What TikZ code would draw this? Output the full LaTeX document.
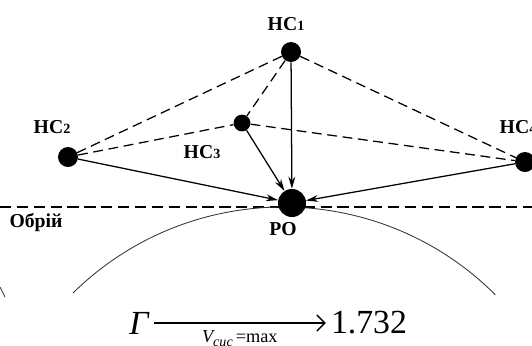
\documentclass[tikz,border=0pt]{standalone}
\usepackage{fontspec}
\setmainfont{Liberation Serif}
\usetikzlibrary{arrows.meta,positioning}

\newcommand{\satname}[1]{HC{\fontsize{10}{10}\selectfont #1}}

\begin{document}
\begin{tikzpicture}[x=0.025cm, y=0.025cm,
  dot/.style={circle, fill=black, inner sep=0pt, minimum size=0.5cm},
  lbl/.style={font=\fontsize{14}{14}\selectfont\bfseries, inner sep=0pt},
  link/.style={dash pattern=on 7pt off 4pt, line width=0.9pt},
  arr/.style={-{Stealth[length=3mm,width=1.7mm]}, line width=0.9pt},
  horizon/.style={dash pattern=on 8pt off 4pt, line width=0.9pt},
  big/.style={font=\fontsize{24}{24}\selectfont, inner sep=3.5pt},
]
\useasboundingbox (0,0) rectangle (532,345);

% ===== Horizon and Earth =====
\coordinate (hl) at (0,138);
\coordinate (hr) at (532,138);
\draw[horizon] (hl) -- (hr);
\draw[line width=0.6pt, black!80] (73,52) arc[start angle=134.5, end angle=45, radius=300];
\draw[line width=0.6pt, black!80] (0,58) -- (5,48);
\node[lbl] (horlbl) at (36,122) {Обрій};

% ===== Satellites and receiver =====
\node[dot] (hc1) at (291,293) {};
\node[dot] (hc2) at (68,188) {};
\node[dot, minimum size=0.42cm] (hc3) at (242,222) {};
\node[dot] (hc4) at (525,183) {};
\node[dot, minimum size=0.7cm] (po) at (292,142) {};

\node[lbl] (hc1lbl) at (286,321) {\satname{1}};
\node[lbl] (hc2lbl) at (52,218) {\satname{2}};
\node[lbl] (hc3lbl) at (202,193) {\satname{3}};
\node[lbl] (hc4lbl) at (518,218) {\satname{4}};
\node[lbl] (polbl) at (283,116) {PO};

% ===== Links =====
\draw[link] (hc1) -- (hc2);
\draw[link] (hc1) -- (hc3);
\draw[link] (hc1) -- (hc4);
\draw[link] (hc2) -- (hc3);
\draw[link] (hc3) -- (hc4);

\draw[arr] (hc1) -- (po);
\draw[arr] (hc2) -- (po);
\draw[arr] (hc3) -- (po);
\draw[arr] (hc4) -- (po);

% ===== Formula =====
\node[big, font=\fontsize{24}{24}\selectfont\itshape] (gam) at (139,22) {Γ};
\node[big] (val) at (369,22) {1.732};
\draw[-{Straight Barb[length=2mm,width=4mm]}, line width=1pt] (gam) -- (val)
  node[midway, below=5pt, inner sep=0pt, font=\fontsize{13}{13}\selectfont]
  {{\itshape V}\raisebox{-0.4ex}{\fontsize{10}{10}\selectfont\itshape сис}\,=max};

\end{tikzpicture}
\end{document}
